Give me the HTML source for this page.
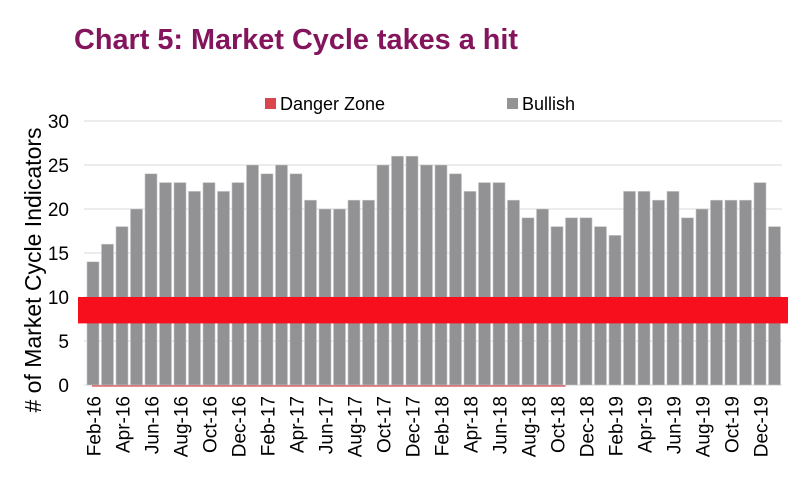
<!DOCTYPE html>
<html><head><meta charset="utf-8"><style>
body{margin:0;background:#fff;width:804px;height:476px;overflow:hidden;font-family:"Liberation Sans",Arial,sans-serif}
</style></head><body>
<svg width="804" height="476" xmlns="http://www.w3.org/2000/svg" font-family="Liberation Sans, Arial, sans-serif">
<text x="74" y="49" font-size="28.5" font-weight="bold" fill="#84145c" textLength="444" lengthAdjust="spacingAndGlyphs">Chart 5: Market Cycle takes a hit</text>
<g id="grid"></g><g id="bars"></g><g id="xlabels"></g><g id="ylabels"></g>
<rect x="265" y="98" width="11" height="11" fill="#d9464e"/>
<text x="280" y="110" font-size="18" fill="#000">Danger Zone</text>
<rect x="507" y="98" width="11" height="11" fill="#949494"/>
<text x="522" y="110" font-size="18" fill="#000">Bullish</text>
<text transform="translate(41,270) rotate(-90)" text-anchor="middle" font-size="23" fill="#000"># of Market Cycle Indicators</text>
</svg>
<script>
const months=["Feb-16","Mar-16","Apr-16","May-16","Jun-16","Jul-16","Aug-16","Sep-16","Oct-16","Nov-16","Dec-16","Jan-17","Feb-17","Mar-17","Apr-17","May-17","Jun-17","Jul-17","Aug-17","Sep-17","Oct-17","Nov-17","Dec-17","Jan-18","Feb-18","Mar-18","Apr-18","May-18","Jun-18","Jul-18","Aug-18","Sep-18","Oct-18","Nov-18","Dec-18","Jan-19","Feb-19","Mar-19","Apr-19","May-19","Jun-19","Jul-19","Aug-19","Sep-19","Oct-19","Nov-19","Dec-19","Jan-20"];
const bullish=[14,16,18,20,24,23,23,22,23,22,23,25,24,25,24,21,20,20,21,21,25,26,26,25,25,24,22,23,23,21,19,20,18,19,19,18,17,22,22,21,22,19,20,21,21,21,23,18];
const dangerLow=7, dangerHigh=10;
const yTicks=[0,5,10,15,20,25,30];
const NS="http://www.w3.org/2000/svg";
const x0=86,x1=782,y0=385,yTop=121,yMax=30;
const slot=(x1-x0)/months.length;
const X=i=>x0+i*slot, Y=v=>y0-(v/yMax)*(y0-yTop);
function mk(t,a,p){const e=document.createElementNS(NS,t);for(const k in a)e.setAttribute(k,a[k]);p.appendChild(e);return e;}
const g=document.getElementById('grid'),b=document.getElementById('bars'),xl=document.getElementById('xlabels'),yl=document.getElementById('ylabels');
yTicks.forEach(v=>{
 const l=mk('line',{x1:x0-2,x2:x1,y1:Y(v),y2:Y(v),stroke:'#d9d9d9','stroke-width':1},g);
 
 
 const t=mk('text',{x:69,y:Y(v)+7,'text-anchor':'end','font-size':19,fill:'#000'},yl);
 t.textContent=v;
 
 
});
bullish.forEach((v,i)=>{
 const r=mk('rect',{x:X(i)+1,y:Y(v),width:slot-2.5,height:Y(0)-Y(v),fill:'#929295',stroke:'#c8c8c8','stroke-width':0.6},b);
 
 
 if(i%2===0){
  const t=mk('text',{transform:`translate(${X(i)+slot/2+7},396) rotate(-90)`,'text-anchor':'end','font-size':19,fill:'#000'},xl);
  t.textContent=months[i];
  
  
 }
});
const band=mk('rect',{x:x0-8,y:Y(dangerHigh),width:x1-x0+14,height:Y(dangerLow)-Y(dangerHigh),fill:'#f80f1e'},b);


const dl=mk('line',{x1:X(0)+6,x2:X(33)+1,y1:Y(0)+1,y2:Y(0)+1,stroke:'#d9464e','stroke-width':1.2},b);


</script>
</body></html>
